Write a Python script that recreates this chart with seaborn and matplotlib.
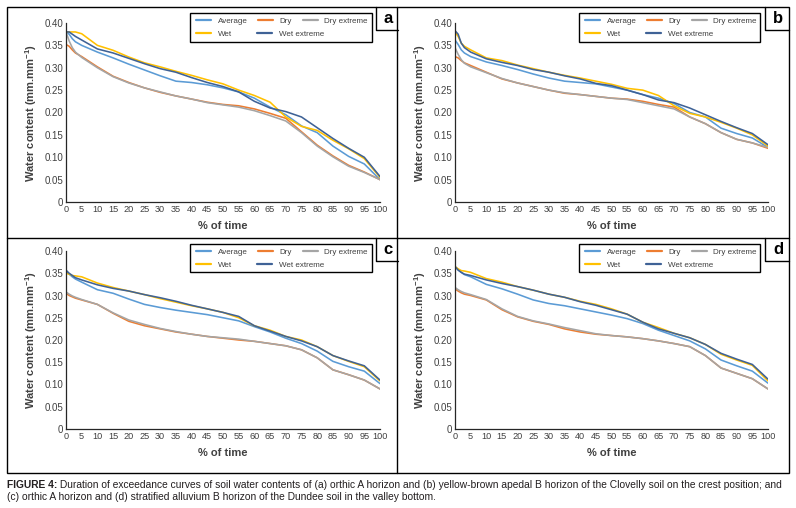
import matplotlib
matplotlib.use("Agg")
import matplotlib.pyplot as plt
from matplotlib.patches import Rectangle
from matplotlib.lines import Line2D
import seaborn as sns
import pandas as pd

sns.set_theme(style="white")
plt.rcParams['font.family'] = ['Liberation Sans', 'DejaVu Sans']
plt.rcParams['mathtext.fontset'] = 'custom'
plt.rcParams['mathtext.rm'] = 'Liberation Sans'
plt.rcParams['mathtext.bf'] = 'Liberation Sans:bold'

# ---------------- data ----------------
pct_time = [0, 1, 2, 3, 5, 10, 15, 20, 25, 30, 35, 40, 45, 50, 55, 60, 65, 70, 75, 80, 85, 90, 95, 100]
series_names = ["Average", "Dry", "Dry extreme", "Wet", "Wet extreme"]
panel_labels = ["a", "b", "c", "d"]
x_ticks = list(range(0, 101, 5))
y_ticks = [0, 0.05, 0.10, 0.15, 0.20, 0.25, 0.30, 0.35, 0.40]
y_tick_labels = ["0", "0.05", "0.10", "0.15", "0.20", "0.25", "0.30", "0.35", "0.40"]

# panel a
a_average = [0.380, 0.375, 0.365, 0.358, 0.350, 0.335, 0.322, 0.308, 0.295, 0.282, 0.270, 0.267, 0.262, 0.255, 0.246, 0.232, 0.212, 0.195, 0.170, 0.155, 0.125, 0.102, 0.085, 0.050]
a_dry = [0.352, 0.348, 0.340, 0.333, 0.325, 0.302, 0.281, 0.267, 0.255, 0.245, 0.237, 0.230, 0.223, 0.218, 0.215, 0.208, 0.198, 0.187, 0.157, 0.127, 0.103, 0.082, 0.067, 0.050]
a_dry_ext = [0.380, 0.360, 0.345, 0.335, 0.323, 0.300, 0.280, 0.266, 0.255, 0.246, 0.237, 0.230, 0.222, 0.217, 0.212, 0.204, 0.193, 0.181, 0.155, 0.125, 0.101, 0.080, 0.066, 0.050]
a_wet = [0.380, 0.380, 0.380, 0.380, 0.376, 0.350, 0.339, 0.324, 0.311, 0.302, 0.292, 0.283, 0.273, 0.264, 0.250, 0.238, 0.223, 0.190, 0.169, 0.160, 0.138, 0.119, 0.097, 0.055]
a_wet_ext = [0.380, 0.380, 0.375, 0.370, 0.362, 0.342, 0.333, 0.321, 0.309, 0.298, 0.290, 0.278, 0.267, 0.258, 0.246, 0.225, 0.210, 0.202, 0.190, 0.166, 0.142, 0.120, 0.100, 0.057]

# panel b
b_average = [0.362, 0.352, 0.340, 0.333, 0.325, 0.313, 0.305, 0.296, 0.286, 0.277, 0.270, 0.267, 0.264, 0.257, 0.250, 0.240, 0.232, 0.220, 0.200, 0.190, 0.165, 0.153, 0.143, 0.122]
b_dry = [0.325, 0.322, 0.316, 0.311, 0.305, 0.290, 0.275, 0.266, 0.258, 0.250, 0.243, 0.240, 0.236, 0.232, 0.230, 0.225, 0.218, 0.212, 0.190, 0.175, 0.155, 0.140, 0.132, 0.120]
b_dry_ext = [0.345, 0.330, 0.318, 0.310, 0.302, 0.289, 0.276, 0.266, 0.258, 0.250, 0.244, 0.240, 0.236, 0.232, 0.229, 0.222, 0.215, 0.208, 0.190, 0.175, 0.155, 0.140, 0.132, 0.122]
b_wet = [0.380, 0.370, 0.355, 0.348, 0.340, 0.322, 0.316, 0.306, 0.298, 0.290, 0.283, 0.277, 0.270, 0.263, 0.254, 0.250, 0.238, 0.215, 0.198, 0.190, 0.178, 0.165, 0.150, 0.125]
b_wet_ext = [0.383, 0.375, 0.355, 0.345, 0.335, 0.320, 0.312, 0.305, 0.296, 0.290, 0.282, 0.275, 0.265, 0.260, 0.250, 0.240, 0.228, 0.222, 0.210, 0.195, 0.180, 0.166, 0.153, 0.128]

# panel c
c_average = [0.355, 0.348, 0.342, 0.337, 0.330, 0.313, 0.305, 0.292, 0.280, 0.273, 0.267, 0.262, 0.257, 0.250, 0.243, 0.230, 0.218, 0.204, 0.192, 0.175, 0.152, 0.140, 0.130, 0.102]
c_dry = [0.305, 0.300, 0.297, 0.294, 0.290, 0.280, 0.260, 0.242, 0.232, 0.225, 0.218, 0.213, 0.208, 0.204, 0.200, 0.197, 0.192, 0.187, 0.178, 0.160, 0.133, 0.122, 0.110, 0.090]
c_dry_ext = [0.308, 0.303, 0.299, 0.296, 0.291, 0.280, 0.261, 0.245, 0.235, 0.226, 0.219, 0.213, 0.208, 0.205, 0.202, 0.197, 0.192, 0.187, 0.178, 0.160, 0.133, 0.122, 0.110, 0.090]
c_wet = [0.350, 0.348, 0.345, 0.344, 0.342, 0.328, 0.318, 0.310, 0.302, 0.293, 0.285, 0.277, 0.270, 0.262, 0.250, 0.232, 0.222, 0.208, 0.200, 0.185, 0.165, 0.152, 0.140, 0.108]
c_wet_ext = [0.357, 0.350, 0.345, 0.340, 0.335, 0.324, 0.316, 0.310, 0.302, 0.295, 0.287, 0.278, 0.270, 0.262, 0.253, 0.232, 0.220, 0.208, 0.198, 0.185, 0.165, 0.153, 0.142, 0.110]

# panel d
d_average = [0.365, 0.358, 0.352, 0.347, 0.342, 0.325, 0.315, 0.303, 0.290, 0.282, 0.277, 0.270, 0.263, 0.256, 0.248, 0.237, 0.222, 0.210, 0.198, 0.180, 0.155, 0.142, 0.130, 0.103]
d_dry = [0.315, 0.310, 0.306, 0.303, 0.300, 0.290, 0.268, 0.252, 0.242, 0.235, 0.225, 0.218, 0.213, 0.210, 0.207, 0.203, 0.198, 0.192, 0.185, 0.165, 0.137, 0.125, 0.113, 0.090]
d_dry_ext = [0.318, 0.313, 0.309, 0.306, 0.302, 0.291, 0.270, 0.253, 0.243, 0.236, 0.228, 0.221, 0.214, 0.210, 0.207, 0.203, 0.198, 0.192, 0.185, 0.165, 0.137, 0.125, 0.113, 0.090]
d_wet = [0.365, 0.360, 0.356, 0.355, 0.352, 0.338, 0.330, 0.320, 0.312, 0.303, 0.296, 0.287, 0.280, 0.270, 0.258, 0.240, 0.228, 0.215, 0.205, 0.190, 0.168, 0.155, 0.143, 0.108]
d_wet_ext = [0.365, 0.357, 0.352, 0.348, 0.345, 0.335, 0.327, 0.320, 0.312, 0.303, 0.296, 0.286, 0.278, 0.268, 0.258, 0.240, 0.225, 0.215, 0.205, 0.190, 0.170, 0.157, 0.145, 0.112]

panels = {
    "a": [a_average, a_dry, a_dry_ext, a_wet, a_wet_ext],
    "b": [b_average, b_dry, b_dry_ext, b_wet, b_wet_ext],
    "c": [c_average, c_dry, c_dry_ext, c_wet, c_wet_ext],
    "d": [d_average, d_dry, d_dry_ext, d_wet, d_wet_ext],
}

colors = {"Average": "#5B9BD5", "Dry": "#ED7D31", "Dry extreme": "#A5A5A5",
          "Wet": "#FFC000", "Wet extreme": "#3F6296"}

# ---------------- layout ----------------
W, H = 796, 508
fig = plt.figure(figsize=(W / 100, H / 100), dpi=100)
fig.patch.set_facecolor("white")

def fx(px):
    return px / W

def fy(py):
    return 1 - py / H

# axes pixel boxes: left, right, top, bottom
axes_px = {
    "a": (66, 380, 23, 202),
    "b": (455, 768, 23, 202),
    "c": (66, 380, 251, 429),
    "d": (455, 768, 251, 429),
}
legend_px = {
    "a": (190, 372, 13, 42),
    "b": (579, 760, 13, 42),
    "c": (190, 372, 244, 272),
    "d": (579, 760, 244, 272),
}
label_px = {
    "a": (376, 398, 7, 30),
    "b": (765, 789, 7, 30),
    "c": (376, 398, 238, 261),
    "d": (765, 789, 238, 261),
}

for p in panel_labels:
    l, r, t, b = axes_px[p]
    ax = fig.add_axes([fx(l), fy(b), fx(r) - fx(l), fy(t) - fy(b)])
    rows = []
    for name, vals in zip(series_names, panels[p]):
        for xv, yv in zip(pct_time, vals):
            rows.append({"time": xv, "value": yv, "series": name})
    df = pd.DataFrame(rows)
    sns.lineplot(data=df, x="time", y="value", hue="series", hue_order=series_names,
                 palette=colors, linewidth=1.15, ax=ax, legend=False)
    ax.set_xlim(0, 100)
    ax.set_ylim(0, 0.40)
    ax.set_xticks(x_ticks)
    ax.set_xticklabels([str(v) for v in x_ticks], fontsize=6.6, color="#404040")
    ax.set_yticks(y_ticks)
    ax.set_yticklabels(y_tick_labels, fontsize=7.0, color="#404040")
    ax.tick_params(length=0, pad=2)
    for s in ["top", "right"]:
        ax.spines[s].set_visible(False)
    for s in ["left", "bottom"]:
        ax.spines[s].set_color("#262626")
        ax.spines[s].set_linewidth(0.9)
    ax.set_facecolor("white")
    ax.set_xlabel("% of time", fontsize=8, fontweight="bold", color="#404040", labelpad=5)
    ax.set_ylabel(r"Water content (mm.mm$^{\mathbf{-1}}$)", fontsize=8, fontweight="bold",
                  color="#404040", labelpad=4)

    # legend: two rows, framed
    ll, lr, lt, lb = legend_px[p]
    fig.add_artist(Rectangle((fx(ll), fy(lb)), fx(lr) - fx(ll), fy(lt) - fy(lb),
                             transform=fig.transFigure, fill=False, edgecolor="black",
                             linewidth=1.0))
    h = {n: Line2D([], [], color=colors[n], linewidth=1.6) for n in series_names}
    leg1 = fig.legend([h["Average"], h["Dry"], h["Dry extreme"]],
                      ["Average", "Dry", "Dry extreme"], ncol=3, loc="center left",
                      bbox_to_anchor=(fx(ll + 6), fy(lt + 8)), frameon=False,
                      fontsize=5.8, handlelength=1.9, handletextpad=0.8,
                      columnspacing=1.3, borderpad=0, borderaxespad=0)
    leg2 = fig.legend([h["Wet"], h["Wet extreme"]], ["Wet", "Wet extreme"], ncol=2,
                      loc="center left", bbox_to_anchor=(fx(ll + 6), fy(lt + 21)),
                      frameon=False, fontsize=5.8, handlelength=1.9, handletextpad=0.8,
                      columnspacing=3.1, borderpad=0, borderaxespad=0)
    for leg in (leg1, leg2):
        for t_ in leg.get_texts():
            t_.set_color("#404040")

    # panel letter box
    pl, pr, pt, pb = label_px[p]
    fig.add_artist(Line2D([fx(pl), fx(pl), fx(pr)], [fy(pt), fy(pb), fy(pb)],
                          transform=fig.transFigure, color="black", linewidth=1.0))
    fig.text(fx((pl + pr) / 2 + 1), fy((pt + pb) / 2), p, fontsize=12, fontweight="bold",
             ha="center", va="center", color="black")

# outer frame and dividers
fig.add_artist(Rectangle((fx(7), fy(473)), fx(789) - fx(7), fy(7) - fy(473),
                         transform=fig.transFigure, fill=False, edgecolor="black", linewidth=1.0))
fig.add_artist(Line2D([fx(397), fx(397)], [fy(7), fy(473)], transform=fig.transFigure,
                      color="black", linewidth=1.0))
fig.add_artist(Line2D([fx(7), fx(789)], [fy(238), fy(238)], transform=fig.transFigure,
                      color="black", linewidth=1.0))

# caption
cap1_bold = "FIGURE 4:"
cap1 = (" Duration of exceedance curves of soil water contents of (a) orthic A horizon and "
        "(b) yellow-brown apedal B horizon of the Clovelly soil on the crest position; and")
cap2 = "(c) orthic A horizon and (d) stratified alluvium B horizon of the Dundee soil in the valley bottom."
capfam = ['Liberation Sans', 'DejaVu Sans']
cap_size = 7.35
t1 = fig.text(fx(7), fy(485), cap1_bold, fontsize=cap_size, fontweight="bold", family=capfam,
              ha="left", va="center", color="#231F20")
fig.canvas.draw()
bb = t1.get_window_extent()
fig.text(bb.x1 / W, fy(485), cap1, fontsize=cap_size, family=capfam, ha="left", va="center",
         color="#231F20")
fig.text(fx(7), fy(497), cap2, fontsize=cap_size, family=capfam, ha="left", va="center",
         color="#231F20")

fig.savefig("out.png", dpi=100, facecolor="white")
